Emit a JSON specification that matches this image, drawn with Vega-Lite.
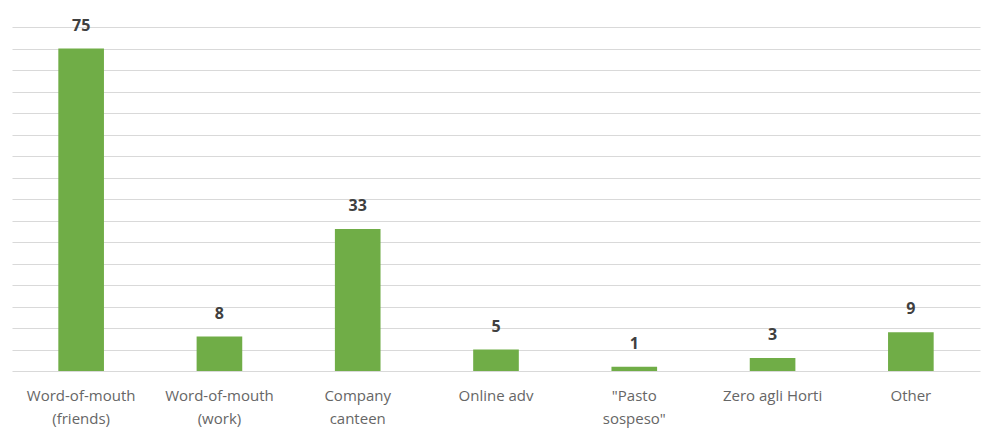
{
  "$schema": "https://vega.github.io/schema/vega-lite/v6.json",
  "width": 968,
  "height": 344,
  "autosize": {"type": "none"},
  "padding": {"left": 12, "top": 27, "right": 7, "bottom": 66},
  "background": "white",
  "config": {"view": {"stroke": null}, "font": "Open Sans"},
  "data": {"values": [
    {"source": "Word-of-mouth|(friends)", "count": 75},
    {"source": "Word-of-mouth|(work)", "count": 8},
    {"source": "Company|canteen", "count": 33},
    {"source": "Online adv", "count": 5},
    {"source": "\"Pasto|sospeso\"", "count": 1},
    {"source": "Zero agli Horti", "count": 3},
    {"source": "Other", "count": 9}
  ]},
  "encoding": {
    "x": {
      "field": "source", "type": "nominal", "sort": null,
      "scale": {"paddingInner": 0.67, "paddingOuter": 0.335},
      "axis": {
        "title": null, "labelAngle": 0, "domain": false, "ticks": false,
        "labelExpr": "split(datum.label, '|')",
        "labelFontSize": 15, "labelColor": "#666666", "labelPadding": 17,
        "labelLineHeight": 23, "labelFont": "Open Sans"
      }
    },
    "y": {
      "field": "count", "type": "quantitative",
      "scale": {"domain": [0, 80], "nice": false},
      "axis": {
        "title": null, "labels": false, "ticks": false, "domain": false,
        "values": [0,5,10,15,20,25,30,35,40,45,50,55,60,65,70,75,80],
        "gridColor": "#d9d9d9", "gridWidth": 1
      }
    }
  },
  "layer": [
    {"mark": {"type": "bar", "color": "#70ad47"}},
    {
      "mark": {"type": "text", "baseline": "bottom", "dy": -15, "fontSize": 16, "fontWeight": "bold", "color": "#404040", "font": "Open Sans"},
      "encoding": {"text": {"field": "count", "type": "quantitative"}}
    }
  ]
}
